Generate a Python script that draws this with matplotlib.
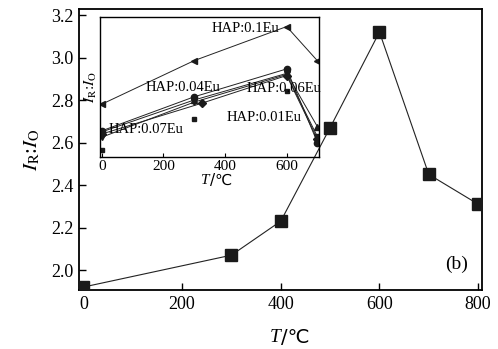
import matplotlib.pyplot as plt

plt.rcParams['font.family'] = ['Liberation Serif', 'DejaVu Sans']
plt.rcParams['mathtext.fontset'] = 'stix'

# main curve (HAP:0.1Eu vs. temperature)
T_main = [0, 300, 400, 500, 600, 700, 800]
ratio_main = [1.92, 2.07, 2.23, 2.67, 3.12, 2.45, 2.31]

# inset series
T_in = [0, 300, 600, 700]
r_01 = [2.78, 2.985, 3.145, 2.984]
r_004 = [2.655, 2.815, 2.946, 2.60]
r_up = [2.65, 2.80, 2.925, 2.674]
r_down = [2.625, 2.79, 2.92, 2.627]
T_dia = [0, 325, 600, 700]
r_dia = [2.64, 2.785, 2.915, 2.615]
T_001 = [0, 300, 600]
r_001 = [2.565, 2.71, 2.84]


def temp_label(a, y, size):
    # italic T followed by /℃ (℃ taken from DejaVu Sans)
    a.text(0.5, y, 'T', transform=a.transAxes, ha='right', va='center',
           fontsize=size, style='italic')
    a.text(0.5, y, '/℃', transform=a.transAxes, ha='left', va='center',
           fontsize=size, family=['DejaVu Sans'])


fig = plt.figure(figsize=(4.98, 3.49), dpi=100)
ax = fig.add_axes([0.1586, 0.169, 0.8094, 0.805])
ax.plot(T_main, ratio_main, color='#222222', lw=0.8, marker='s', ms=8,
        mfc='#1a1a1a', mec='#1a1a1a', zorder=5)
ax.set_xlim(-9, 808)
ax.set_ylim(1.906, 3.228)
ax.set_xticks([0, 200, 400, 600, 800])
ax.set_yticks([2.0, 2.2, 2.4, 2.6, 2.8, 3.0, 3.2])
ax.tick_params(direction='in', labelsize=13, length=5, width=1, pad=4)
for s in ax.spines.values():
    s.set_linewidth(1.3)
temp_label(ax, -0.17, 14)
ax.set_ylabel(r'$I_{\rm R}$:$I_{\rm O}$', fontsize=15, labelpad=6)
ax.text(0.965, 0.09, '(b)', transform=ax.transAxes, ha='right', va='center',
        fontsize=14)

# inset
ins = fig.add_axes([0.2008, 0.5501, 0.4398, 0.4012])
ins.set_facecolor('none')
kw = dict(color='#222222', lw=0.7, ms=4.5, mfc='#1a1a1a', mec='#1a1a1a')
ins.plot(T_in, r_01, marker='<', **kw)
ins.plot(T_in, r_004, marker='o', **kw)
ins.plot(T_in, r_up, marker='^', **kw)
ins.plot(T_in, r_down, marker='v', **kw)
ins.plot(T_dia, r_dia, marker='D', **kw)
ins.plot(T_001, r_001, ls='none', marker='s', ms=3, mfc='#1a1a1a', mec='#1a1a1a')
ins.set_xlim(-5.5, 705)
ins.set_ylim(2.532, 3.19)
ins.set_xticks([0, 200, 400, 600])
ins.set_yticks([])
ins.tick_params(direction='in', labelsize=11, length=3, pad=2)
for s in ins.spines.values():
    s.set_linewidth(1.0)
temp_label(ins, -0.165, 11)
ins.set_ylabel(r'$I_{\rm R}$:$I_{\rm O}$', fontsize=11, labelpad=1)

fs = 10.5
ins.text(0.51, 0.92, 'HAP:0.1Eu', transform=ins.transAxes, fontsize=fs, va='center')
ins.text(0.21, 0.50, 'HAP:0.04Eu', transform=ins.transAxes, fontsize=fs, va='center')
ins.text(0.67, 0.49, 'HAP:0.06Eu', transform=ins.transAxes, fontsize=fs, va='center')
ins.text(0.58, 0.285, 'HAP:0.01Eu', transform=ins.transAxes, fontsize=fs, va='center')
ins.text(0.04, 0.20, 'HAP:0.07Eu', transform=ins.transAxes, fontsize=fs, va='center')

fig.savefig('out.png', dpi=100)
